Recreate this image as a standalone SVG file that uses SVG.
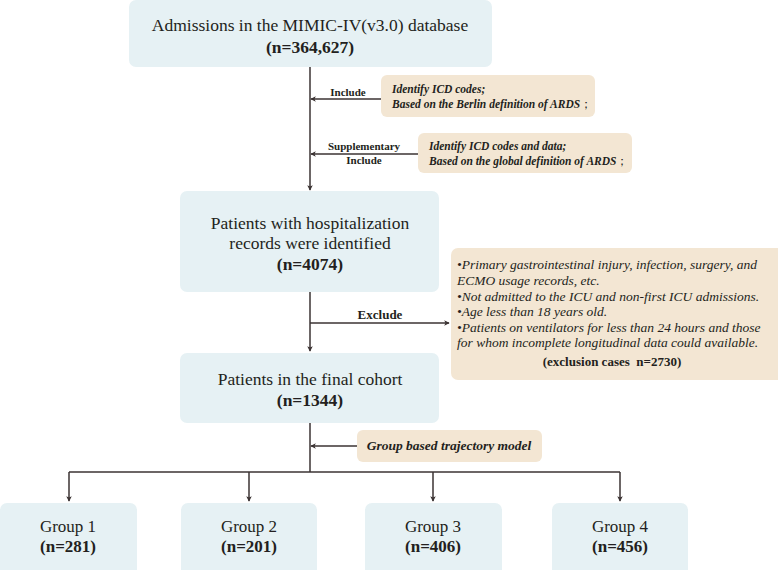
<svg xmlns="http://www.w3.org/2000/svg" width="778" height="570" viewBox="0 0 778 570">
<style>
.blue{fill:#e6f1f4}
.tan{fill:#f3e6d3}
.t{font-family:"Liberation Serif","Times New Roman",serif;fill:#231f20}
.main{font-size:17.5px}
.grp{font-size:17px}
.b{font-weight:bold}
.bi{font-weight:bold;font-style:italic;font-size:11.5px}
.big{font-size:13.5px}
.it{font-style:italic;font-size:13.5px}
.lbl{font-weight:bold;font-size:11px}
.m13{font-size:13px}
.c{text-anchor:middle}
.ln{stroke:#3b3333;stroke-width:1.5;fill:none}
.arr{marker-end:url(#ah)}
</style>
<defs>
<marker id="ah" viewBox="0 0 8 8" refX="7" refY="4" markerWidth="5.5" markerHeight="5.5" markerUnits="userSpaceOnUse" orient="auto">
<path d="M0,0 L8,4 L0,8 L2,4 z" fill="#3b3333"/>
</marker>
</defs>
<g id="connectors">
<path class="ln arr" d="M310,67 V190"/>
<path class="ln arr" d="M381,99 H311"/>
<path class="ln arr" d="M418,154 H311"/>
<path class="ln arr" d="M310,292 V351"/>
<path class="ln arr" d="M310,323 H449"/>
<path class="ln" d="M310,423 V472"/>
<path class="ln arr" d="M357,446 H311"/>
<path class="ln" d="M69,472 H620"/>
<path class="ln arr" d="M69,472 V501"/>
<path class="ln arr" d="M249,472 V501"/>
<path class="ln arr" d="M433,472 V501"/>
<path class="ln arr" d="M620,472 V501"/>
<text class="t lbl c" x="348" y="96">Include</text>
<text class="t lbl c" x="364" y="150">Supplementary</text>
<text class="t lbl c" x="364" y="164">Include</text>
<text class="t b c m13" x="380" y="319">Exclude</text>
</g>
<g id="admissions">
<rect class="blue" x="129" y="0" width="363" height="67" rx="7"/>
<text class="t main c" x="310" y="31">Admissions in the MIMIC-IV(v3.0) database</text>
<text class="t main b c" x="310" y="53">(n=364,627)</text>
</g>
<g id="include">
<rect class="tan" x="381" y="75" width="214" height="42" rx="6"/>
<text class="t bi" x="392" y="93">Identify ICD codes;</text>
<text class="t bi" x="392" y="108">Based on the Berlin definition of ARDS<tspan font-style="normal" font-weight="normal">；</tspan></text>
</g>
<g id="supplementary">
<rect class="tan" x="418" y="133" width="214" height="40" rx="6"/>
<text class="t bi" x="429" y="150">Identify ICD codes and data;</text>
<text class="t bi" x="429" y="165">Based on the global definition of ARDS<tspan font-style="normal" font-weight="normal">；</tspan></text>
</g>
<g id="identified">
<rect class="blue" x="180" y="191" width="259" height="101" rx="7"/>
<text class="t main c" x="310" y="229">Patients with hospitalization</text>
<text class="t main c" x="310" y="249">records were identified</text>
<text class="t main b c" x="310" y="270">(n=4074)</text>
</g>
<g id="exclusion">
<rect class="tan" x="451" y="248" width="335" height="132" rx="7"/>
<text class="t it" x="457" y="269">•Primary gastrointestinal injury, infection, surgery, and</text>
<text class="t it" x="457" y="285">ECMO usage records, etc.</text>
<text class="t it" x="457" y="301">•Not admitted to the ICU and non-first ICU admissions.</text>
<text class="t it" x="457" y="316">•Age less than 18 years old.</text>
<text class="t it" x="457" y="332">•Patients on ventilators for less than 24 hours and those</text>
<text class="t it" x="457" y="347">for whom incomplete longitudinal data could available.</text>
<text class="t b c m13" x="612" y="366" xml:space="preserve">(exclusion cases  n=2730)</text>
</g>
<g id="cohort">
<rect class="blue" x="180" y="353" width="259" height="70" rx="7"/>
<text class="t main c" x="310" y="385">Patients in the final cohort</text>
<text class="t main b c" x="310" y="406">(n=1344)</text>
</g>
<g id="trajectory">
<rect class="tan" x="357" y="430" width="185" height="32" rx="6"/>
<text class="t bi big c" x="449" y="450">Group based trajectory model</text>
</g>
<g id="group1">
<rect class="blue" x="0" y="503" width="137" height="75" rx="7"/>
<text class="t grp c" x="68" y="532">Group 1</text>
<text class="t grp b c" x="68" y="552">(n=281)</text>
</g>
<g id="group2">
<rect class="blue" x="181" y="503" width="136" height="75" rx="7"/>
<text class="t grp c" x="249" y="532">Group 2</text>
<text class="t grp b c" x="249" y="552">(n=201)</text>
</g>
<g id="group3">
<rect class="blue" x="365" y="503" width="137" height="75" rx="7"/>
<text class="t grp c" x="433" y="532">Group 3</text>
<text class="t grp b c" x="433" y="552">(n=406)</text>
</g>
<g id="group4">
<rect class="blue" x="552" y="503" width="136" height="75" rx="7"/>
<text class="t grp c" x="620" y="532">Group 4</text>
<text class="t grp b c" x="620" y="552">(n=456)</text>
</g>
</svg>
